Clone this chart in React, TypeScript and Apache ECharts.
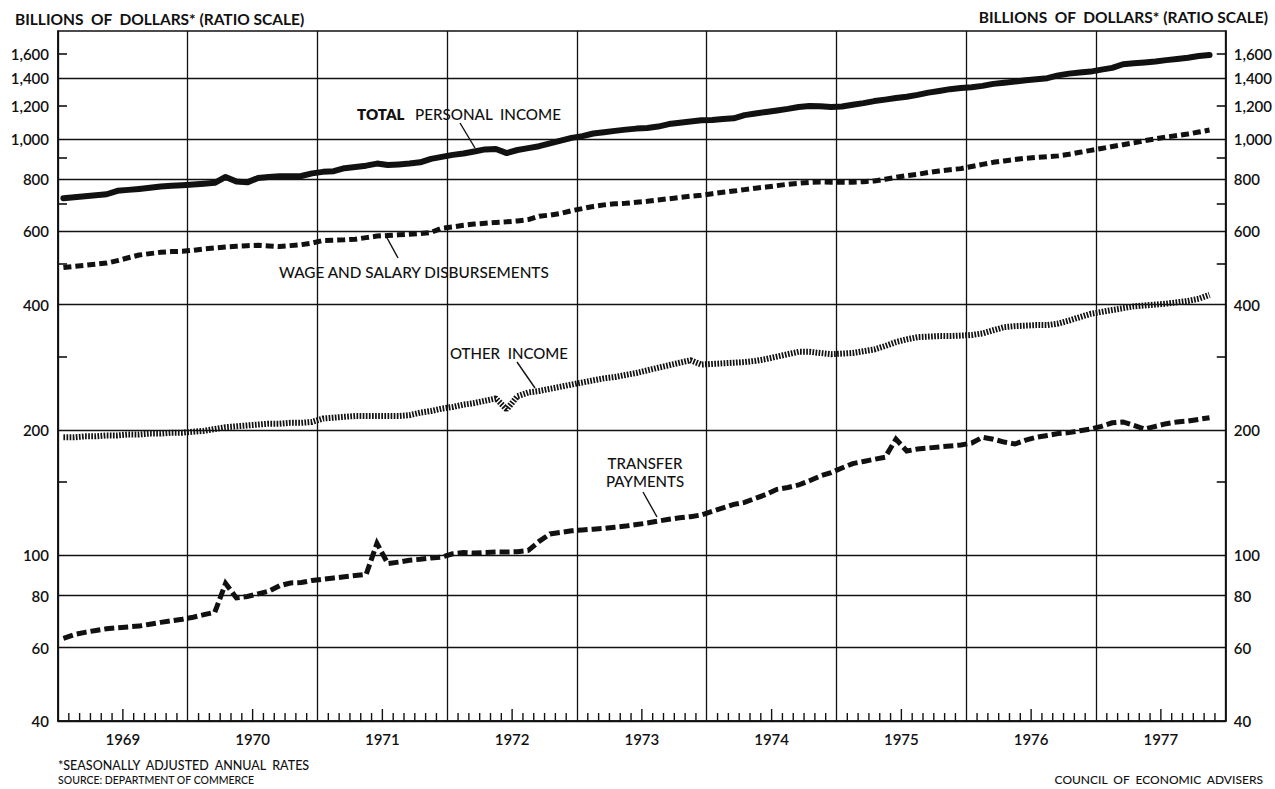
import React, { useEffect, useRef } from "react";
import * as echarts from "echarts";

// Monthly values, Jan 1969 .. Nov 1977 (billions of dollars, SAAR)
const totalPersonalIncome = [
  720, 724, 728, 732, 736, 750, 754, 758, 763, 768, 771, 774,
  777, 780, 784, 810, 790, 786, 805, 810, 813, 813, 814, 826,
  833, 836, 850, 856, 862, 872, 865, 868, 872, 878, 895, 905,
  915, 922, 932, 943, 945, 924, 940, 950, 960, 975, 990, 1005,
  1015, 1030, 1037, 1045, 1052, 1058, 1062, 1070, 1085, 1093, 1100, 1108,
  1110, 1116, 1120, 1140, 1150, 1160, 1170, 1180, 1192, 1199, 1198, 1193,
  1196, 1207, 1218, 1232, 1242, 1253, 1262, 1275, 1291, 1303, 1316, 1325,
  1330, 1340, 1355, 1363, 1372, 1382, 1390, 1398, 1420, 1434, 1442, 1450,
  1466, 1480, 1510, 1518, 1525, 1533, 1545, 1555, 1565, 1580, 1590,
];
const wageSalary = [
  491, 494, 497, 500, 503, 510, 518, 526, 530, 534, 536, 537,
  540, 544, 547, 550, 552, 554, 555, 553, 551, 554, 557, 562,
  570, 571, 572, 574, 579, 584, 586, 588, 590, 592, 596, 610,
  614, 620, 624, 627, 630, 632, 635, 640, 652, 656, 662, 672,
  680, 688, 694, 698, 700, 704, 708, 713, 718, 723, 728, 732,
  738, 744, 749, 755, 761, 766, 772, 778, 782, 786, 788, 787,
  787, 787, 789, 792, 800, 808, 816, 822, 830, 837, 843, 848,
  858, 868, 878, 885, 892, 898, 902, 906, 910, 918, 928, 938,
  948, 958, 968, 978, 990, 1000, 1010, 1018, 1027, 1038, 1050,
];
const otherIncome = [
  192, 192, 193, 193, 194, 194, 195, 195, 196, 196, 197, 197,
  198, 199, 201, 203, 204, 205, 206, 207, 207, 208, 208, 209,
  213, 214, 215, 216, 216, 216, 216, 216, 217, 220, 222, 225,
  227, 230, 232, 235, 238, 224, 241, 246, 248, 251, 254, 257,
  260, 263, 266, 268, 271, 274, 278, 282, 286, 290, 294, 287,
  288, 289, 290, 291, 293, 296, 300, 304, 308, 308, 306, 304,
  305, 306, 309, 312, 318, 325, 330, 334, 335, 336, 336, 337,
  338, 341, 347, 353, 355, 356, 357, 357, 360, 366, 373, 380,
  384, 388, 392, 396, 398, 400, 402, 405, 408, 413, 422,
];
const transferPayments = [
  63.2, 64.5, 65.3, 66, 66.6, 67, 67.3, 67.6, 68.3, 69, 69.6, 70.2,
  71, 72, 73, 85.6, 79, 79.6, 80.8, 82, 84.5, 85.8, 86, 87,
  87.6, 88.2, 88.8, 89.4, 90, 106.8, 95.5, 96.3, 97.3, 97.8, 98.5, 99,
  100.8, 101.5, 101.2, 101.6, 101.8, 101.8, 102, 102.7, 108, 112.5, 113.5, 114.5,
  115, 115.5, 116, 116.8, 117.5, 118.5, 119.5, 120.8, 122, 123, 123.8, 125,
  127.5, 130, 132.5, 134, 137, 140, 144, 145.5, 147.5, 151, 155, 158,
  162, 166, 168, 170, 172, 190, 178, 180, 181, 182, 183, 184,
  186, 192, 190, 187, 185, 189, 192, 194, 196, 197, 199, 201,
  204, 208, 209, 205, 201, 204, 207, 209, 210, 212, 214,
];

const years = ["1969", "1970", "1971", "1972", "1973", "1974", "1975", "1976", "1977"];
const gridValues = [40, 60, 80, 100, 200, 400, 600, 800, 1000, 1400];
const labelValues = [40, 60, 80, 100, 200, 400, 600, 800, 1000, 1200, 1400, 1600];
const shortTickValues = [150, 300, 500, 700, 900, 1200, 1600];
const yMinValue = 40;
const yMaxValue = 1815;
const monthCount = 108;
// month boundaries inside each year (ticks along the bottom axis)
const monthBoundaries = Array.from({ length: monthCount - 1 }, (_, i) => i + 1).filter((m) => m % 12 !== 0);

const FONT = "Lato, 'Open Sans', sans-serif";
const INK = "#111";

const lg = (v: number) => Math.log10(v);
const toSeries = (arr: number[]) => arr.map((v, i) => [i + 0.5, lg(v)]);
const fmt = (v: number) => Math.round(Math.pow(10, v)).toLocaleString("en-US");

export default function App() {
  const ref = useRef<HTMLDivElement>(null);

  useEffect(() => {
    if (!ref.current) return;
    const chart = echarts.init(ref.current, undefined, { renderer: "svg" });

    const yBase = {
      type: "value" as const,
      min: lg(yMinValue),
      max: lg(yMaxValue),
      scale: true,
    };

    const labelStyle = {
      fontFamily: FONT,
      fontSize: 15,
      fontWeight: 600,
      color: INK,
    };

    const txt = (text: string, x: number, y: number, size: number, weight: any = 500, align = "left") => ({
      type: "text",
      x,
      y,
      silent: true,
      style: {
        text,
        fill: INK,
        font: `${weight} ${size}px ${FONT}`,
        textAlign: align,
        textVerticalAlign: "middle",
        align,
        verticalAlign: "middle",
      },
    });

    const leader = (x1: number, y1: number, x2: number, y2: number) => ({
      type: "line",
      silent: true,
      shape: { x1, y1, x2, y2 },
      style: { stroke: INK, lineWidth: 1.4 },
    });

    chart.setOption({
      animation: false,
      backgroundColor: "#fff",
      grid: {
        left: 58,
        right: 48,
        top: 31,
        bottom: 68,
        show: true,
        borderColor: INK,
        borderWidth: 1.5,
        containLabel: false,
      },
      xAxis: [
        {
          type: "value",
          min: 0,
          max: monthCount,
          interval: 12,
          position: "bottom",
          axisLine: { show: true, lineStyle: { color: INK, width: 1.6 } },
          axisTick: { show: false },
          axisLabel: { show: false },
          splitLine: { show: true, lineStyle: { color: INK, width: 1.3 } },
        },
        {
          type: "category",
          data: years,
          position: "bottom",
          boundaryGap: true,
          axisLine: { show: false },
          axisTick: { show: false },
          splitLine: { show: false },
          axisLabel: {
            show: true,
            margin: 10,
            fontFamily: FONT,
            fontSize: 15,
            fontWeight: 600,
            color: INK,
          },
        },
      ],
      yAxis: [
        {
          ...yBase,
          position: "left",
          axisLine: { show: true, lineStyle: { color: INK, width: 1.6 } },
          axisTick: { show: false, customValues: gridValues.map(lg) },
          splitLine: { show: true, lineStyle: { color: INK, width: 1.3 } },
          axisLabel: {
            show: true,
            customValues: labelValues.map(lg),
            formatter: fmt,
            margin: 9,
            ...labelStyle,
          },
        },
        {
          ...yBase,
          position: "right",
          axisLine: { show: true, lineStyle: { color: INK, width: 1.6 } },
          axisTick: { show: false, customValues: gridValues.map(lg) },
          splitLine: { show: false },
          axisLabel: {
            show: true,
            customValues: labelValues.map(lg),
            formatter: fmt,
            margin: 8,
            ...labelStyle,
          },
        },
        {
          ...yBase,
          position: "left",
          axisLine: { show: false },
          axisTick: {
            show: true,
            inside: true,
            length: 9,
            customValues: shortTickValues.map(lg),
            lineStyle: { color: INK, width: 1.6 },
          },
          axisLabel: { show: false },
          splitLine: { show: false },
        },
        {
          ...yBase,
          position: "right",
          axisLine: { show: false },
          axisTick: {
            show: true,
            inside: true,
            length: 9,
            customValues: shortTickValues.map(lg),
            lineStyle: { color: INK, width: 1.6 },
          },
          axisLabel: { show: false },
          splitLine: { show: false },
        },
      ],
      series: [
        {
          name: "month ticks",
          type: "custom",
          xAxisIndex: 0,
          yAxisIndex: 0,
          silent: true,
          data: monthBoundaries.map((m) => [m, lg(yMinValue)]),
          encode: { x: 0, y: 1 },
          renderItem: (params: any, api: any) => {
            const m = api.value(0);
            const p = api.coord([m, api.value(1)]);
            const len = m % 12 === 6 ? 12 : 8;
            return {
              type: "line",
              shape: { x1: p[0], y1: p[1], x2: p[0], y2: p[1] - len },
              style: { stroke: INK, lineWidth: 1.4 },
            };
          },
          z: 3,
        },
        {
          name: "TOTAL PERSONAL INCOME",
          type: "line",
          xAxisIndex: 0,
          yAxisIndex: 0,
          data: toSeries(totalPersonalIncome),
          showSymbol: false,
          symbol: "none",
          lineStyle: { color: INK, width: 6, cap: "round", join: "round" },
          z: 5,
        },
        {
          name: "WAGE AND SALARY DISBURSEMENTS",
          type: "line",
          xAxisIndex: 0,
          yAxisIndex: 0,
          data: toSeries(wageSalary),
          showSymbol: false,
          symbol: "none",
          lineStyle: { color: INK, width: 5, type: [8, 4], join: "round" },
          z: 5,
        },
        {
          name: "OTHER INCOME",
          type: "line",
          xAxisIndex: 0,
          yAxisIndex: 0,
          data: toSeries(otherIncome),
          showSymbol: false,
          symbol: "none",
          lineStyle: { color: INK, width: 6, type: [1.7, 1.4] },
          z: 5,
        },
        {
          name: "TRANSFER PAYMENTS",
          type: "line",
          xAxisIndex: 0,
          yAxisIndex: 0,
          data: toSeries(transferPayments),
          showSymbol: false,
          symbol: "none",
          lineStyle: { color: INK, width: 5, type: [10, 4], join: "miter" },
          z: 5,
        },
      ],
      graphic: [
        txt("BILLIONS  OF  DOLLARS* (RATIO SCALE)", 15, 19, 15.5, 700),
        txt("BILLIONS  OF  DOLLARS* (RATIO SCALE)", 1268, 17, 15.5, 700, "right"),
        txt("TOTAL", 357, 114, 15, 800),
        txt("PERSONAL  INCOME", 415, 114, 15.2, 500),
        leader(460, 123, 475, 148),
        txt("WAGE AND SALARY DISBURSEMENTS", 279, 272, 15.3, 500),
        leader(386, 236, 398, 258),
        txt("OTHER  INCOME", 450, 353, 15, 500),
        leader(517, 362, 535, 388),
        txt("TRANSFER", 645, 463, 15, 500, "center"),
        txt("PAYMENTS", 645, 481, 15, 500, "center"),
        leader(643, 492, 657, 517),
        txt("*SEASONALLY  ADJUSTED  ANNUAL  RATES", 58, 765, 12.5, 500),
        txt("SOURCE: DEPARTMENT OF COMMERCE", 58, 780, 10.5, 500),
        txt("COUNCIL  OF  ECONOMIC  ADVISERS", 1263, 779, 12, 500, "right"),
      ],
    } as any);

    return () => chart.dispose();
  }, []);

  return (
    <div
      ref={ref}
      style={{ position: "fixed", left: 0, top: 0, width: 1275, height: 789, background: "#fff" }}
    />
  );
}
